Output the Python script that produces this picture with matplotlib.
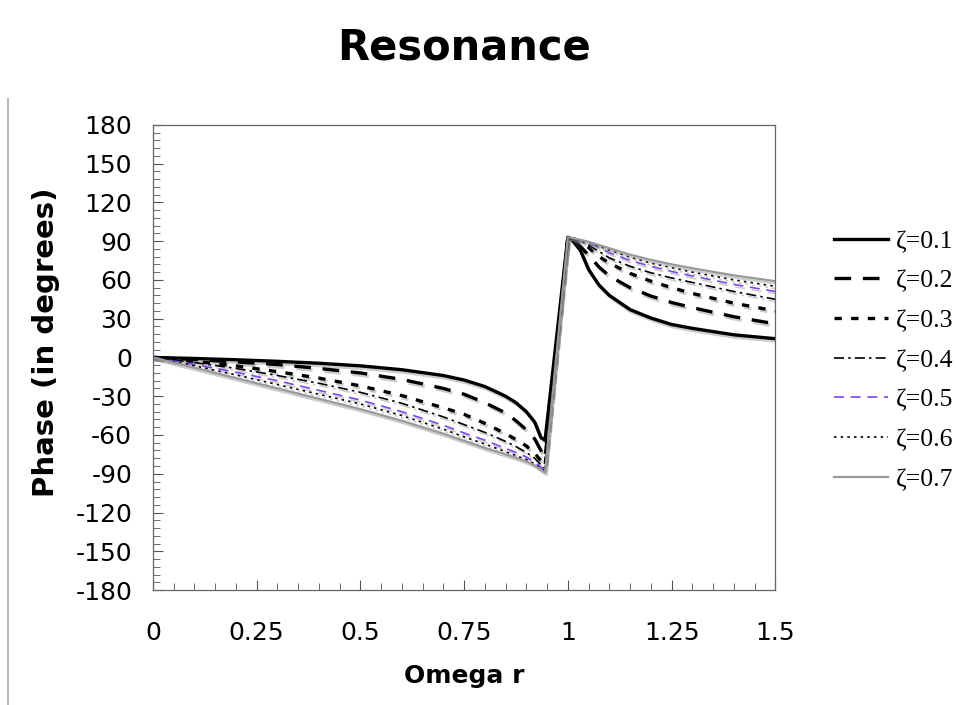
import matplotlib
matplotlib.use("Agg")
import matplotlib.pyplot as plt
import matplotlib.patheffects as pe
from matplotlib.lines import Line2D
from matplotlib.ticker import MultipleLocator

plt.rcParams["axes.unicode_minus"] = False
plt.rcParams["font.family"] = ["DejaVu Sans"]

# frequency ratio grid
r = [0, 0.1, 0.2, 0.3, 0.4, 0.5, 0.6, 0.7, 0.75, 0.8, 0.85, 0.875, 0.9, 0.92, 0.935, 0.945,
     1.0, 1.01, 1.03, 1.05, 1.075, 1.1, 1.15, 1.2, 1.25, 1.3, 1.4, 1.5]

# phase in degrees for each damping ratio
phase_01 = [0, -0.8, -1.8, -3, -4.5, -6.5, -9.5, -14, -17.5, -22.5, -30, -35, -42, -50, -62, -64,
            93, 91, 83, 68, 56, 48, 37, 30.5, 25.5, 22.5, 17.5, 14.5]
phase_02 = [0, -1.5, -3.5, -5.5, -8.5, -12, -17, -24, -28.5, -35, -43, -49, -56, -63, -72, -78,
            93, 92, 86, 79, 70, 63, 54, 47.5, 42.5, 38.5, 31.5, 26]
phase_03 = [0, -3, -6.5, -11, -16, -22, -29.5, -39, -44, -51, -59, -63.5, -68.5, -74, -80, -84,
            93, 92.5, 89, 85, 78, 73, 65, 59, 54, 49.5, 42, 36]
phase_04 = [0, -4, -8.5, -14, -20, -27, -35.5, -46, -52, -58, -65, -69, -73.5, -78, -83, -86,
            93, 92.5, 90, 87, 82, 77, 70.5, 65.5, 61.5, 58, 51, 45]
phase_05 = [0, -5.5, -11.5, -18, -25.5, -33, -42, -52.5, -58.5, -64, -70.5, -73.5, -77, -81, -85, -87,
            93, 92.5, 90.5, 88.5, 85, 81, 75, 70.5, 66.5, 63, 56.5, 51]
phase_06 = [0, -6.5, -13.5, -21, -28.5, -36, -45, -55.5, -61.5, -67, -73, -76, -79, -82.5, -86, -88,
            93, 92.5, 91, 89, 86, 83, 77.5, 73, 69.5, 66, 60, 55]
phase_07 = [0, -8, -16, -24, -32, -40, -49, -59, -64.5, -70, -75, -77.5, -80.5, -83.5, -87, -89,
            93, 92.5, 91, 89.5, 87, 84.5, 79.5, 75.5, 72, 69, 63.5, 59]

labels = ["ζ=0.1", "ζ=0.2", "ζ=0.3", "ζ=0.4", "ζ=0.5", "ζ=0.6", "ζ=0.7"]
xtick_labels = ["0", "0.25", "0.5", "0.75", "1", "1.25", "1.5"]

series = [phase_01, phase_02, phase_03, phase_04, phase_05, phase_06, phase_07]
styles = [
    dict(color="black", lw=2.4, ls="-"),
    dict(color="black", lw=2.4, ls=(0, (5, 3.5))),
    dict(color="black", lw=2.4, ls=(0, (2.2, 2.8))),
    dict(color="black", lw=1.2, ls=(0, (6, 2.5, 1.5, 2.5))),
    dict(color="#7b45f0", lw=1.2, ls=(0, (6, 4))),
    dict(color="black", lw=1.2, ls=(0, (1.5, 2.5))),
    dict(color="#999999", lw=1.6, ls="-"),
]

fig = plt.figure(figsize=(9.56, 7.05), dpi=100)
ax = fig.add_axes([0.160, 0.163, 0.651, 0.660])

shadow = [pe.SimpleLineShadow(offset=(1.2, -1.8), shadow_color="gray", alpha=0.4),
          pe.Normal()]

handles = []
for ys, st, lab in zip(series, styles, labels):
    ax.plot(r, ys, color=st["color"], lw=st["lw"], linestyle=st["ls"],
            path_effects=shadow)
    handles.append(Line2D([], [], color=st["color"], lw=st["lw"], linestyle=st["ls"], label=lab))

ax.set_xlim(0, 1.5)
ax.set_ylim(-180, 180)
ax.set_xticks([0, 0.25, 0.5, 0.75, 1, 1.25, 1.5])
ax.set_xticklabels(xtick_labels)
ax.xaxis.set_minor_locator(MultipleLocator(0.05))
ax.yaxis.set_major_locator(MultipleLocator(30))
ax.yaxis.set_minor_locator(MultipleLocator(6))
ax.tick_params(which="both", direction="in", labelsize=18, color="#555555")
ax.tick_params(which="major", length=7, width=0.8)
ax.tick_params(which="minor", length=5, width=0.6)
ax.tick_params(axis="x", pad=22)
ax.tick_params(axis="y", pad=15)
for s in ax.spines.values():
    s.set_color("#666666")
    s.set_linewidth(0.9)

ax.set_title("Resonance", fontsize=30, fontweight="bold", pad=47)
ax.set_xlabel("Omega r", fontsize=18, fontweight="bold", labelpad=14)
ax.set_ylabel("Phase (in degrees)", fontsize=21, fontweight="bold")
ax.yaxis.set_label_coords(-0.150, 0.533)

fig.legend(handles=handles, loc="center left", bbox_to_anchor=(0.862, 0.489),
           frameon=False, prop={"family": "Liberation Serif", "size": 18.5},
           handlelength=2.1, handletextpad=0.3, labelspacing=0.65,
           borderaxespad=0)

# left frame edge of the original chart area
fig.add_artist(Line2D([0.008, 0.008], [0.0, 0.86], transform=fig.transFigure,
                      color="#bbbbbb", lw=1.5))

fig.savefig("out.png", dpi=100)
